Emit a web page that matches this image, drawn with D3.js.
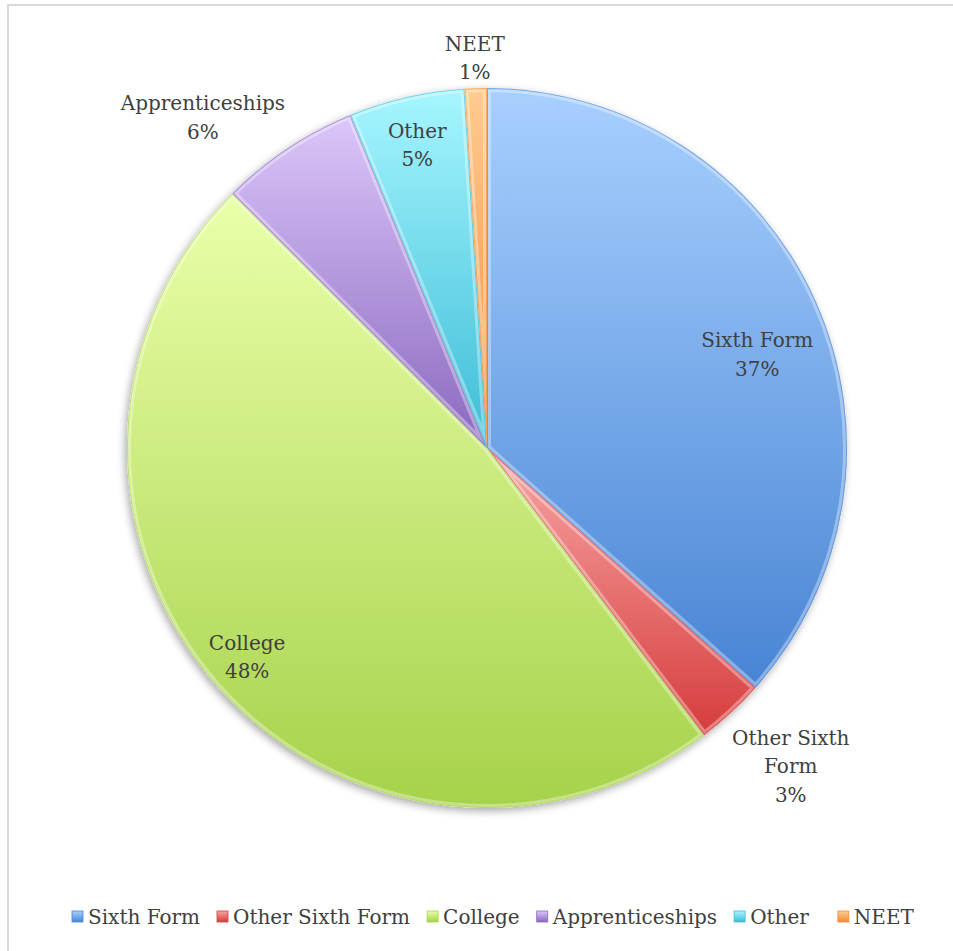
<!DOCTYPE html>
<html>
<head>
<meta charset="utf-8">
<script src="https://cdn.jsdelivr.net/npm/d3@7"></script>
<style>
  body { margin: 0; background: #fff; }
  text { font-family: "DejaVu Serif", "Liberation Serif", serif; fill: #404040; }
</style>
</head>
<body>
<svg id="chart" width="953" height="951"></svg>
<script>
// data
var categories = ['Sixth Form', 'Other Sixth Form', 'College', 'Apprenticeships', 'Other', 'NEET']
var shares = [36.6, 3.1, 47.8, 6.3, 5.2, 1.0]
var pctLabels = ['37%', '3%', '48%', '6%', '5%', '1%']

// colours, light (top) -> dark (bottom)
var topColors = ['#a8d0ff', '#f8a6a6', '#eaffaa', '#dcc6fa', '#a6f6ff', '#ffcc90']
var bottomColors = ['#4884d4', '#d63c3c', '#a6d24a', '#8a68bf', '#3cbcd6', '#ee8c3a']

// label placement (radius from centre, angle nudge in degrees, lines)
var labelLayout = [
    { r: 286, da: 5, lines: ['Sixth Form'] },
    { r: 440, da: -1, lines: ['Other Sixth', 'Form'] },
    { r: 318, da: 0, lines: ['College'] },
    { r: 436, da: -7, lines: ['Apprenticeships'] },
    { r: 311, da: 0, lines: ['Other'] },
    { r: 390, da: 0, lines: ['NEET'] }
]

var width = 953
var height = 951
var cx = 487
var cy = 448
var radius = 360

var svg = d3.select('#chart')
var defs = svg.append('defs')

// frame
svg.append('path')
    .attr('d', 'M 8 ' + height + ' L 8 5 L ' + width + ' 5')
    .attr('fill', 'none')
    .attr('stroke', '#d9d9d9')
    .attr('stroke-width', 2)

categories.forEach(function (c, i) {
    var g = defs.append('linearGradient').attr('id', 'grad' + i)
        .attr('x1', 0).attr('y1', 0).attr('x2', 0).attr('y2', 1)
    g.append('stop').attr('offset', '0%').attr('stop-color', topColors[i])
    g.append('stop').attr('offset', '100%').attr('stop-color', bottomColors[i])
})

var shadow = defs.append('filter').attr('id', 'shadow')
    .attr('x', '-10%').attr('y', '-10%').attr('width', '120%').attr('height', '120%')
shadow.append('feGaussianBlur').attr('in', 'SourceAlpha').attr('stdDeviation', 4)
shadow.append('feOffset').attr('dx', -2).attr('dy', 3).attr('result', 'blur')
shadow.append('feComponentTransfer').append('feFuncA').attr('type', 'linear').attr('slope', 0.35)
var merge = shadow.append('feMerge')
merge.append('feMergeNode')
merge.append('feMergeNode').attr('in', 'SourceGraphic')

var pie = d3.pie().sort(null).value(function (d) { return d })
var arcs = pie(shares)
var arc = d3.arc().innerRadius(0).outerRadius(radius)

var pieG = svg.append('g').attr('transform', 'translate(' + cx + ',' + cy + ')')

// shadow under whole pie
pieG.append('circle').attr('r', radius).attr('fill', '#fff').attr('filter', 'url(#shadow)')

arcs.forEach(function (a, i) {
    defs.append('clipPath').attr('id', 'clip' + i)
        .append('path').attr('d', arc(a))

    pieG.append('path')
        .attr('d', arc(a))
        .attr('fill', 'url(#grad' + i + ')')

    // bevel: light inner edge and darker outer rim
    pieG.append('path')
        .attr('d', arc(a))
        .attr('fill', 'none')
        .attr('stroke', '#ffffff')
        .attr('stroke-opacity', 0.35)
        .attr('stroke-width', 8)
        .attr('clip-path', 'url(#clip' + i + ')')
    pieG.append('path')
        .attr('d', arc(a))
        .attr('fill', 'none')
        .attr('stroke', bottomColors[i])
        .attr('stroke-opacity', 0.6)
        .attr('stroke-width', 2)
        .attr('clip-path', 'url(#clip' + i + ')')
})

// data labels
var fontSize = 20
arcs.forEach(function (a, i) {
    var lay = labelLayout[i]
    var ang = (a.startAngle + a.endAngle) / 2 + lay.da * Math.PI / 180
    var x = Math.sin(ang) * lay.r
    var y = -Math.cos(ang) * lay.r
    var lines = lay.lines.concat([pctLabels[i]])
    var lh = 28.5
    var t = pieG.append('text')
        .attr('text-anchor', 'middle')
        .attr('font-size', fontSize)
    lines.forEach(function (l, k) {
        t.append('tspan')
            .attr('x', x)
            .attr('y', y + (k - (lines.length - 1) / 2) * lh + 7)
            .text(l)
    })
})

// legend
var legendY = 917
var legendG = svg.append('g')
var lx = 72
categories.forEach(function (c, i) {
    var item = legendG.append('g')
    item.append('rect')
        .attr('x', lx).attr('y', legendY - 6)
        .attr('width', 11).attr('height', 11)
        .attr('fill', 'url(#grad' + i + ')')
        .attr('stroke', bottomColors[i])
        .attr('stroke-width', 0.8)
    var txt = item.append('text')
        .attr('x', lx + 16)
        .attr('y', legendY + 7)
        .attr('font-size', fontSize)
        .text(c)
    lx = lx + 16 + txt.node().getComputedTextLength() + 17
    if (c == 'Other') lx = lx + 12
})
</script>
</body>
</html>
